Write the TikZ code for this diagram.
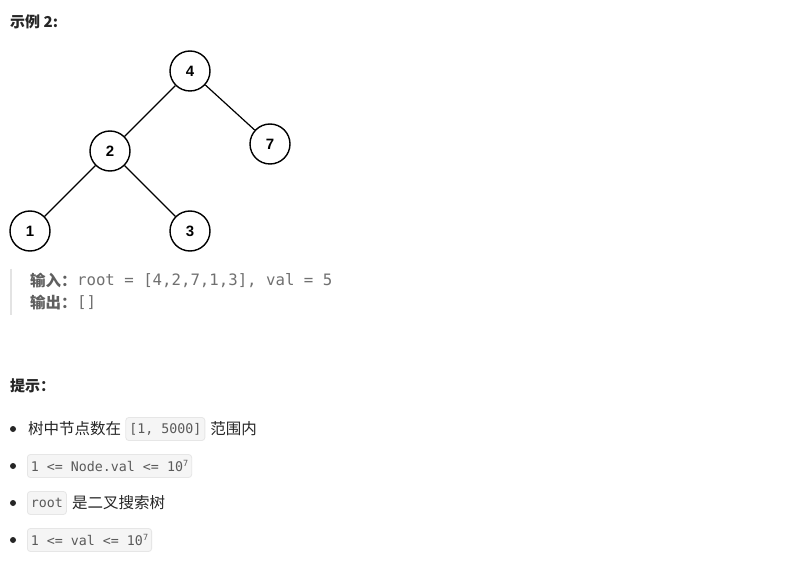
\documentclass[tikz,border=0pt]{standalone}
\usepackage{fontspec}
\setmainfont{Noto Sans CJK SC}
\setmonofont{DejaVu Sans Mono}
\newfontfamily\numfont{Liberation Sans}
\definecolor{txt}{HTML}{262626}
\definecolor{qtxt}{HTML}{5F5F5F}
\definecolor{qcode}{HTML}{707070}
\definecolor{bar}{HTML}{E3E3E3}
\definecolor{codebg}{HTML}{F5F5F5}
\definecolor{codebd}{HTML}{E6E6E6}
\definecolor{codetx}{HTML}{5A5A5A}
\begin{document}
\begin{tikzpicture}[x=1pt,y=-1pt,
  tnode/.style={draw=black,line width=1.4pt,circle,minimum size=40pt,inner sep=0pt,font=\numfont\bfseries\fontsize{15}{17}\selectfont},
  tedge/.style={line width=1.2pt},
  heading/.style={anchor=west,inner sep=0pt,text=txt,font=\bfseries\fontsize{15}{18}\selectfont},
  qlabel/.style={anchor=west,inner sep=0pt,text=qtxt,font=\bfseries\fontsize{15.5}{18}\selectfont},
  qcodet/.style={anchor=west,inner sep=0pt,text=qcode,font=\ttfamily\fontsize{15.7}{18}\selectfont},
  body/.style={anchor=west,inner sep=0pt,text=txt,font=\fontsize{15.5}{18}\selectfont},
  codebox/.style={anchor=west,fill=codebg,draw=codebd,line width=0.8pt,rounded corners=3pt,inner xsep=3.5pt,inner ysep=0pt,minimum height=23pt,text=codetx,font=\ttfamily\fontsize{13.3}{16}\selectfont},
  bullet/.style={circle,fill=txt,inner sep=0pt,minimum size=6pt}
]
\useasboundingbox (0,0) rectangle (811,577);
\fill[white] (0,0) rectangle (811,577);

\node[heading] (title) at (10,22) {示例 2:};

% tree
\node[tnode] (n4) at (190,71) {4};
\node[tnode] (n2) at (110,151) {2};
\node[tnode] (n7) at (270,144) {7};
\node[tnode] (n1) at (30,231) {1};
\node[tnode] (n3) at (190,231) {3};
\draw[tedge] (n4) -- (n2);
\draw[tedge] (n4) -- (n7);
\draw[tedge] (n2) -- (n1);
\draw[tedge] (n2) -- (n3);

% blockquote
\coordinate (bartop) at (11,269);
\coordinate (barbot) at (11,315);
\draw[bar,line width=2.5pt] (bartop) -- (barbot);
\node[qlabel] (in) at (30,281) {输入：};
\node[qcodet] (inv) at (in.east) {root = [4,2,7,1,3], val = 5};
\node[qlabel] (out) at (30,303) {输出：};
\node[qcodet] (outv) at (out.east) {[]};

\node[heading] (hint) at (10,386) {提示：};

% bullets
\node[bullet] (b1) at (13,429) {};
\node[bullet] (b2) at (13,466) {};
\node[bullet] (b3) at (13,503) {};
\node[bullet] (b4) at (13,540) {};

\node[body] (t1a) at (28,429) {树中节点数在};
\node[codebox] (c1) at ([xshift=4pt]t1a.east) {[1, 5000]};
\node[body] (t1b) at ([xshift=5pt]c1.east) {范围内};

\node[codebox] (c2) at (27,466) {1 <= Node.val <= 10\raisebox{0.45em}{\fontsize{8.5}{10}\selectfont 7}};

\node[codebox] (c3) at (27,503) {root};
\node[body] (t3) at ([xshift=5pt]c3.east) {是二叉搜索树};

\node[codebox] (c4) at (27,540) {1 <= val <= 10\raisebox{0.45em}{\fontsize{8.5}{10}\selectfont 7}};
\end{tikzpicture}
\end{document}
